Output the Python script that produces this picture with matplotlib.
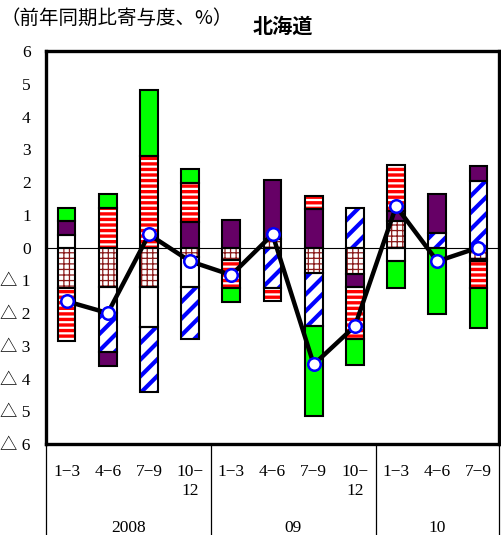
import numpy as np
import matplotlib.pyplot as plt

# Quarterly contributions (percentage points), 2008 Q1 - 2010 Q3
quarters = ['1−3', '4−6', '7−9', '10−\n12', '1−3', '4−6', '7−9', '10−\n12', '1−3', '4−6', '7−9']
years = ['2008', '09', '10']
year_spans = [(0, 3), (4, 7), (8, 10)]

grid_part = [-1.22, -1.20, -1.20, -0.30, -0.39, 0.25, -0.79, -0.82, 0.81, 0.00, -0.35]
white_part = [0.37, -0.80, -1.22, -0.90, 0.00, 0.00, 0.00, 0.00, -0.41, 0.00, -0.06]
blue_part = [0.00, -1.20, -1.98, -1.60, 0.00, -1.22, -1.61, 1.20, 0.00, 0.43, 2.02]
purple_part = [0.43, -0.42, 0.00, 0.78, 0.83, 1.80, 1.17, -0.38, 0.30, 1.22, 0.46]
red_part = [-1.63, 1.20, 2.78, 1.20, -0.86, -0.41, 0.40, -1.60, 1.41, 0.00, -0.81]
green_part = [0.41, 0.42, 2.02, 0.42, -0.41, 0.00, -2.75, -0.80, -0.84, -2.04, -1.25]

total = [-1.64, -2.00, 0.40, -0.42, -0.84, 0.40, -3.57, -2.40, 1.26, -0.42, 0.00]

# stacking order away from zero, with fill / hatch styles
layers = [
    (grid_part, 'white', '#8b1a1a', '+++', 0.9),
    (white_part, 'white', 'white', None, 0),
    (blue_part, 'white', '#0000ff', '//', 3.0),
    (purple_part, '#660066', '#660066', None, 0),
    (red_part, 'white', '#ff0000', '---', 2.4),
    (green_part, '#00ff00', '#00ff00', None, 0),
]

jp = ['Noto Sans CJK JP', 'DejaVu Sans']
serif = ['Liberation Serif', 'Noto Sans CJK JP', 'DejaVu Sans']

fig = plt.figure(figsize=(5.02, 5.35), dpi=100)
ax = fig.add_axes([0.0916, 0.170, 0.9026, 0.7346])

x = np.arange(len(quarters))
width = 0.43
pos_base = np.zeros(len(x))
neg_base = np.zeros(len(x))

for vals, face, hcol, hatch, hlw in layers:
    vals = np.array(vals)
    bottom = np.where(vals >= 0, pos_base, neg_base)
    keep = vals != 0
    with plt.rc_context({'hatch.linewidth': hlw if hlw else 1.0}):
        fill = ax.bar(x[keep], vals[keep], width, bottom=bottom[keep], color=face,
                      edgecolor=hcol, hatch=hatch, linewidth=0, zorder=2)
        if hatch:
            for p in fill:
                if hasattr(p, 'set_hatch_linewidth'):
                    p.set_hatch_linewidth(hlw)
    ax.bar(x[keep], vals[keep], width, bottom=bottom[keep], fill=False,
           edgecolor='black', linewidth=1.5, zorder=3)
    pos_base += np.where(vals > 0, vals, 0)
    neg_base += np.where(vals < 0, vals, 0)

ax.axhline(0, color='black', linewidth=0.8, zorder=1)
ax.plot(x, total, color='black', linewidth=3.2, marker='o', markersize=9,
        markerfacecolor='white', markeredgecolor='#0000ff', markeredgewidth=1.8, zorder=4)

ax.set_xlim(-0.5, len(x) - 0.5)
ax.set_ylim(-6, 6)
ticks = np.arange(-6, 7)
ax.set_yticks(ticks)
ax.set_yticklabels([str(t) if t >= 0 else f'△ {-t}' for t in ticks], family=serif, fontsize=12.5)
ax.tick_params(axis='y', length=0, pad=11)
ax.set_xticks([])
for s in ax.spines.values():
    s.set_linewidth(2.4)

# quarter labels, year labels and separators under the axis
xt = ax.get_xaxis_transform()
for i, q in enumerate(quarters):
    ax.text(i, -0.05, q, transform=xt, ha='center', va='top', family=serif,
            fontsize=12.5, linespacing=1.3)
for (a, b), yr in zip(year_spans, years):
    ax.text((a + b) / 2, -0.214, yr, transform=xt, ha='center', va='center',
            family=serif, fontsize=12.5)
for xb in [-0.5, 3.5, 7.5, 10.5]:
    ax.plot([xb, xb], [0, -0.24], transform=xt, color='black', linewidth=0.9,
            clip_on=False)

fig.text(0.0, 0.966, '（前年同期比寄与度、%）', family=jp, fontsize=14, va='center', ha='left')
fig.text(0.563, 0.951, '北海道', family=jp, fontsize=14.5, fontweight='bold', va='center', ha='center')

fig.savefig('out.png', dpi=100)
